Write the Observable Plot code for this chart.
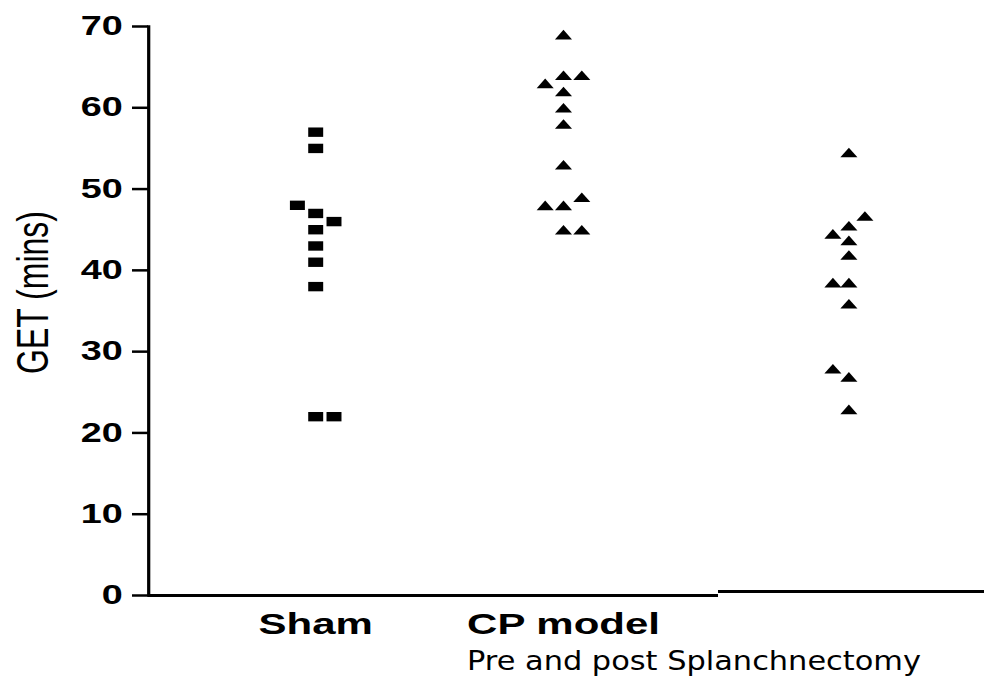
<!DOCTYPE html>
<html>
<head>
<meta charset="utf-8">
<script src="https://cdn.jsdelivr.net/npm/d3@7"></script>
<script src="https://cdn.jsdelivr.net/npm/@observablehq/plot@0.6"></script>
<style>
  html, body { margin: 0; padding: 0; background: #fff; width: 984px; height: 679px; overflow: hidden; position: relative; }
  #left { position: absolute; left: 0; top: 0; }
  #right { position: absolute; left: 718px; top: 0; }
  #caption { position: absolute; left: 467px; top: 646.5px; font-family: "DejaVu Sans", sans-serif; font-size: 27.4px; line-height: 1;
             transform: scaleX(1.11); transform-origin: 0 0; white-space: nowrap; color: #000; }
</style>
</head>
<body>
<div id="left"></div>
<div id="right"></div>
<div id="caption"></div>
<script>
// ---------------- data ----------------
const groups = ["Sham", "CP model"];
const shamGET = [57, 55, 48, 47, 46, 45, 43, 41, 38, 22, 22];
const shamCol = [0, 0, -1, 0, 1, 0, 0, 0, 0, 0, 1];       // jitter column of each point
const cpGET   = [69, 64, 64, 63, 62, 60, 58, 53, 49, 48, 48, 45, 45];
const cpCol   = [0, 0, 1, -1, 0, 0, 0, 0, 1, -1, 0, 0, 1];
const postGroup = "Post splanchnectomy";
const postGET = [54, 46.2, 45, 44, 43.2, 41.4, 38, 38, 35.4, 27.4, 26.4, 22.4];
const postCol = [0, 1, 0, -1, 0, 0, -1, 0, 0, -1, 0, 0];
const yTicks = [0, 10, 20, 30, 40, 50, 60, 70];
const yLabel = "GET (mins)";
const xLabel = "Pre and post Splanchnectomy";

// ---------------- tables ----------------
const shamData = shamGET.map((v, i) => ({group: groups[0], get: v, col: shamCol[i]}));
const cpData = cpGET.map((v, i) => ({group: groups[1], get: v, col: cpCol[i]}));
const postData = postGET.map((v, i) => ({group: postGroup, get: v, col: postCol[i]}));

// ---------------- styling ----------------
const S = 1.4;           // horizontal stretch of the original figure
const H = 645;
const wideSquare = { draw(ctx) { ctx.rect(-5.35, -4.7, 10.7, 9.4); } };
const mound = { draw(ctx) { ctx.moveTo(0, -4.8); ctx.lineTo(6.1, 4.8); ctx.lineTo(-6.1, 4.8); ctx.closePath(); } };
const baseStyle = {fontFamily: "'Liberation Sans', Arial, sans-serif", color: "black", background: "white", overflow: "visible"};

function jitter(data, symbol, step) {
  return [-1, 0, 1].map(c => Plot.dot(data, {
    filter: d => d.col === c, x: "group", y: "get",
    symbol, fill: "black", stroke: "none", dx: c * step
  }));
}

function stretch(svg, w, h) {
  svg.setAttribute("width", w * S);
  svg.setAttribute("height", h);
  svg.setAttribute("viewBox", `0 0 ${w} ${h}`);
  svg.setAttribute("preserveAspectRatio", "none");
  svg.style.width = (w * S) + "px";
  svg.style.height = h + "px";
  svg.style.maxWidth = "none";
  return svg;
}

// ---------------- left panel ----------------
const leftW = 718 / S;
const mL = 148 / S, mT = 26, y0 = 595;
const leftSvg = Plot.plot({
  width: leftW, height: H,
  marginLeft: mL, marginRight: 0, marginTop: mT, marginBottom: H - y0,
  style: baseStyle,
  x: {type: "point", domain: groups, padding: 0.5, insetLeft: 30.7, insetRight: 22.1},
  y: {domain: [0, 70]},
  marks: [
    Plot.axisY({ticks: yTicks, tickSize: 16 / S, tickPadding: 10 / S, strokeWidth: 2.5,
                fontSize: 27, fontWeight: "bold", label: null}),
    Plot.axisX({tickSize: 0, tickPadding: 17, fontSize: 30, fontWeight: "bold", label: null}),
    Plot.frame({anchor: "left", strokeWidth: 2.3}),
    Plot.ruleY([0], {strokeWidth: 3}),
    Plot.text([yLabel], {text: d => d, frameAnchor: "left", textAnchor: "middle", lineAnchor: "middle",
                         rotate: -90, fontSize: 32, dx: (33 - 148) / S, dy: 292 - (mT + y0) / 2}),
    ...jitter(shamData, wideSquare, 18.3 / S),
    ...jitter(cpData, mound, 18.3 / S)
  ]
});
document.getElementById("left").appendChild(stretch(leftSvg, leftW, H));

// ---------------- right panel ----------------
const rightW = 266 / S;
const rT = 22, ry0 = 591;
const rightSvg = Plot.plot({
  width: rightW, height: H,
  marginLeft: 0, marginRight: 0, marginTop: rT, marginBottom: H - ry0,
  style: baseStyle,
  x: {type: "point", domain: [postGroup], padding: 0.5, insetRight: 4.3, axis: null},
  y: {domain: [0, 70], axis: null},
  marks: [
    Plot.ruleY([0], {strokeWidth: 3}),
    ...jitter(postData, mound, 16 / S)
  ]
});
document.getElementById("right").appendChild(stretch(rightSvg, rightW, H));

document.getElementById("caption").textContent = xLabel;
</script>
</body>
</html>
